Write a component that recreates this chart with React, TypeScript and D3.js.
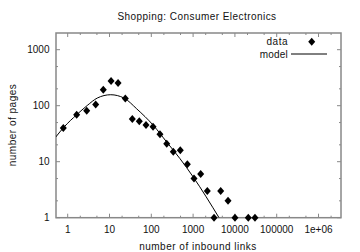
import React from "react";
import * as d3 from "d3";

const title = "Shopping: Consumer Electronics";
const xLabel = "number of inbound links";
const yLabel = "number of pages";

const dataLinks = [0.785, 1.64, 2.85, 4.67, 7.1, 10.9, 16, 23.9, 35.1, 51.6, 74.7, 110, 161, 234, 336, 494, 727, 1052, 1520, 2188, 3162, 4571, 6839, 10046, 20900, 30200];
const dataPages = [40, 69, 81, 105, 193, 275, 253, 135, 58, 53, 45, 42, 31, 21, 15, 16, 9, 5, 6, 3, 1, 3, 2, 1, 1, 1];

const modelLinks = [0.516, 0.816, 1.64, 2.94, 5.1, 10.7, 22.2, 44.7, 112, 234, 487, 1011, 4170];
const modelPages = [27.5, 41.5, 69, 101, 137, 157, 137, 88, 44.5, 22.4, 11.3, 5.3, 1];

const xTicks = [1, 10, 100, 1000, 10000, 100000, 1000000];
const xTickLabels = ["1", "10", "100", "1000", "10000", "100000", "1e+06"];
const yTicks = [1, 10, 100, 1000];
const yTickLabels = ["1", "10", "100", "1000"];
const minorFactors = [2, 5];

const W = 360, H = 252;
const L = 56, R = 341, T = 33, B = 217.7;
const FONT = "'Liberation Sans', Arial, Helvetica, sans-serif";
const FRAME = "#888";

export default function App() {
  const x = d3.scaleLog().domain([0.525, 3.45e6]).range([L, R]);
  const y = d3.scaleLog().domain([1, 1987]).range([B, T]);

  const xMinor: number[] = [];
  for (let e = -1; e <= 6; e++) for (const f of minorFactors) {
    const v = f * Math.pow(10, e);
    if (v > 0.525 && v < 3.45e6) xMinor.push(v);
  }
  const yMinor: number[] = [];
  for (let e = 0; e <= 3; e++) for (const f of minorFactors) {
    const v = f * Math.pow(10, e);
    if (v < 1987) yMinor.push(v);
  }

  const modelPts: [number, number][] = modelLinks.map((v, i) => [v, modelPages[i]]);
  const line = d3.line<[number, number]>()
    .x(d => x(d[0]))
    .y(d => y(d[1]))
    .curve(d3.curveMonotoneX);

  const diamond = (cx: number, cy: number) =>
    `M${cx},${cy - 4}L${cx + 3.5},${cy}L${cx},${cy + 4}L${cx - 3.5},${cy}Z`;

  const major = 4, minor = 2;

  return (
    <svg width={W} height={H} style={{ position: "absolute", left: 0, top: 0, background: "#fff" }} fontFamily={FONT}>
      <rect width={W} height={H} fill="#fff" />
      <defs>
        <clipPath id="plot">
          <rect x={L} y={T} width={R - L} height={B - T} />
        </clipPath>
      </defs>
      <g stroke={FRAME} strokeWidth={1}>
        {xTicks.map(v => (
          <g key={"xt" + v}>
            <line x1={x(v)} x2={x(v)} y1={B} y2={B - major} />
            <line x1={x(v)} x2={x(v)} y1={T} y2={T + major} />
          </g>
        ))}
        {xMinor.map(v => (
          <g key={"xm" + v}>
            <line x1={x(v)} x2={x(v)} y1={B} y2={B - minor} />
            <line x1={x(v)} x2={x(v)} y1={T} y2={T + minor} />
          </g>
        ))}
        {yTicks.map(v => (
          <g key={"yt" + v}>
            <line x1={L} x2={L + major} y1={y(v)} y2={y(v)} />
            <line x1={R} x2={R - major} y1={y(v)} y2={y(v)} />
          </g>
        ))}
        {yMinor.map(v => (
          <g key={"ym" + v}>
            <line x1={L} x2={L + minor} y1={y(v)} y2={y(v)} />
            <line x1={R} x2={R - minor} y1={y(v)} y2={y(v)} />
          </g>
        ))}
      </g>
      <rect x={L} y={T} width={R - L} height={B - T} fill="none" stroke={FRAME} strokeWidth={1.5} />
      <g fontSize={10} fill="#111">
        {xTicks.map((v, i) => (
          <text key={"xl" + v} x={x(v)} y={232.5} textAnchor="middle">{xTickLabels[i]}</text>
        ))}
        {yTicks.map((v, i) => (
          <text key={"yl" + v} x={49.5} y={y(v) + 3.5} textAnchor="end">{yTickLabels[i]}</text>
        ))}
        <text x={197} y={19.5} textAnchor="middle" letterSpacing={0.45}>{title}</text>
        <text x={198} y={250} textAnchor="middle" letterSpacing={0.5}>{xLabel}</text>
        <text transform={`translate(16,125) rotate(-90)`} textAnchor="middle" letterSpacing={0.5}>{yLabel}</text>
        <text x={288} y={45} textAnchor="end" letterSpacing={0.5}>data</text>
        <text x={288} y={57.5} textAnchor="end" letterSpacing={0.2}>model</text>
      </g>
      <path d={line(modelPts) || ""} fill="none" stroke="#000" strokeWidth={1} clipPath="url(#plot)" />
      <line x1={291} x2={327} y1={54} y2={54} stroke="#000" strokeWidth={1} />
      <g fill="#000">
        {dataLinks.map((v, i) => (
          <path key={"d" + i} d={diamond(x(v), y(dataPages[i]))} />
        ))}
        <path d={diamond(311.7, 41.7)} />
      </g>
    </svg>
  );
}
